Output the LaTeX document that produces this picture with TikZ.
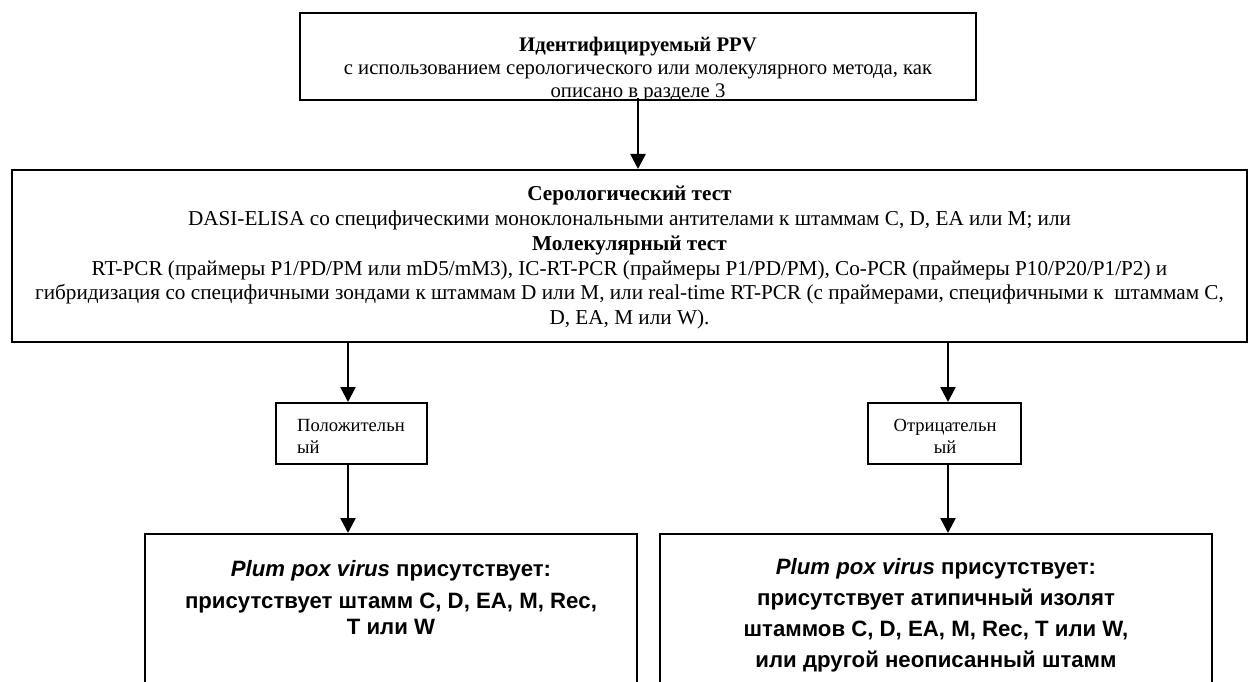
\documentclass[tikz,border=0pt]{standalone}
\usepackage{fontspec}
\setmainfont{Liberation Serif}
\newfontfamily\arialfont{Liberation Sans}
\usetikzlibrary{arrows.meta, positioning}

\tikzset{
  box/.style={draw, rectangle, line width=2pt, inner sep=0pt},
  txt/.style={align=center, inner sep=0pt, font=\fontsize{21.2}{24.8}\selectfont},
  smalltxt/.style={inner sep=0pt, font=\fontsize{18.6}{22}\selectfont},
  restxt/.style={align=center, inner sep=0pt, font=\arialfont\bfseries\fontsize{22.2}{31}\selectfont},
  arr/.style={line width=2.5pt, -{Triangle[width=15pt, length=15pt]}},
}

\begin{document}
\begin{tikzpicture}[x=1pt, y=-1pt]

        \useasboundingbox (0,0) rectangle (1250,682);
        \clip (0,0) rectangle (1250,682);

        % identification
        \node[box, minimum width=676pt, minimum height=87pt] (ident) at (638,56.5) {};
        \begin{scope}
          \clip (ident.north west) rectangle (ident.south east);
          \node[txt, font=\fontsize{20.7}{23}\selectfont, anchor=north] (identtxt) at (638,37)
            {\textbf{Идентифицируемый PPV}\\
             с использованием серологического или молекулярного метода, как\\
             описано в разделе 3};
        \end{scope}

        % tests
        \node[box, minimum width=1235pt, minimum height=172pt] (test) at (629.5,256) {};
        \node[txt, anchor=north] (testtxt) at (629.5,186)
          {\textbf{Серологический тест}\\
           DASI-ELISA со специфическими моноклональными антителами к штаммам C, D, EA или M; или\\
           \textbf{Молекулярный тест}\\
           RT-PCR (праймеры P1/PD/PM или mD5/mM3), IC-RT-PCR (праймеры P1/PD/PM), Co-PCR (праймеры P10/P20/P1/P2) и\\
           гибридизация со специфичными зондами к штаммам D или M, или real-time RT-PCR (с праймерами, специфичными к~ штаммам C,\\
           D, EA, M или W).};

        % outcomes
        \node[box, minimum width=151pt, minimum height=61pt] (pos) at (351.5,433.5) {};
        \node[smalltxt, align=left, anchor=north west] (postxt) at (297,419) {Положительн\\ый};
        \node[box, minimum width=153pt, minimum height=61pt] (neg) at (944.5,433.5) {};
        \node[smalltxt, align=center, anchor=north] (negtxt) at (945,419) {Отрицательн\\ый};

        % results
        \node[box, minimum width=492pt, minimum height=186pt] (res1) at (391,627) {};
        \node[restxt, anchor=north] (res1txt) at (391,560)
          {\textit{Plum pox virus} присутствует:\\[1pt]
           присутствует штамм C, D, EA, M, Rec,\\[-5pt]
           T или W};
        \node[box, minimum width=552pt, minimum height=186pt] (res2) at (936,627) {};
        \node[restxt, anchor=north] (res2txt) at (936,558)
          {\textit{Plum pox virus} присутствует:\\
           присутствует атипичный изолят\\
           штаммов C, D, EA, M, Rec, T или W,\\
           или другой неописанный штамм};

        \draw[arr] (ident.south) ++(0,-3) -- (ident.south |- test.north);
        \draw[arr] (test.south -| 348,0) -- (348,0 |- pos.north);
        \draw[arr] (test.south -| 948,0) -- (948,0 |- neg.north);
        \draw[arr] (pos.south -| 348,0) -- (348,0 |- res1.north);
        \draw[arr] (neg.south -| 948,0) -- (948,0 |- res2.north);

\end{tikzpicture}
\end{document}
